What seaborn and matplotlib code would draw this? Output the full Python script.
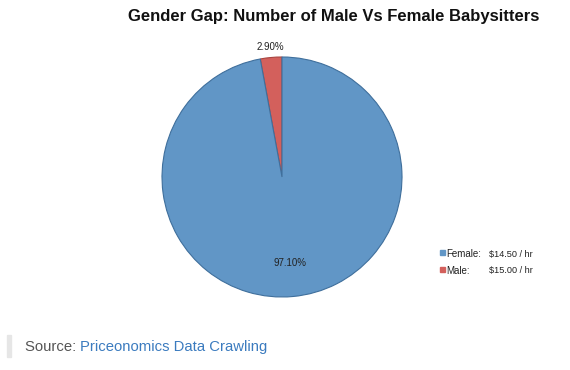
import matplotlib
matplotlib.use("Agg")
import matplotlib.pyplot as plt
import seaborn as sns
import numpy as np

sns.set_theme(style="white")
plt.rcParams['font.family'] = ['Liberation Sans', 'DejaVu Sans']

categories = ["Male", "Female"]
shares = [2.90, 97.10]
rates = ["$15.00 / hr", "$14.50 / hr"]
colors = ["#d3605c", "#6196c6"]
edge_colors = ["#a84440", "#3f6f9c"]

W, H = 570, 370
fig = plt.figure(figsize=(W / 100, H / 100), dpi=100)
cx, cy, r = 282, 177, 120
ax = fig.add_axes([(cx - r) / W, (H - cy - r) / H, 2 * r / W, 2 * r / H])
wedges, _ = ax.pie(shares, colors=colors, startangle=90, counterclock=True,
                   wedgeprops=dict(linewidth=0.8))
for w, ec in zip(wedges, edge_colors):
    w.set_edgecolor(ec)
ax.set_xlim(-1, 1)
ax.set_ylim(-1, 1)
ax.set_aspect('equal')
ax.axis('off')

label_r = {"Male": 1.09, "Female": 0.72}
for w, cat, s in zip(wedges, categories, shares):
    ang = np.deg2rad((w.theta1 + w.theta2) / 2)
    rr = label_r[cat]
    ax.text(rr * np.cos(ang), rr * np.sin(ang), f"{s:.2f}%", ha='center', va='center',
            fontsize=7, color='#222222')

fig.text(334 / W, 1 - 16 / H, "Gender Gap: Number of Male Vs Female Babysitters",
         ha='center', va='center', fontsize=12, fontweight='bold', color='#111111')

# legend (Female first)
leg_items = [(categories[1], rates[1], colors[1]), (categories[0], rates[0], colors[0])]
for i, (cat, rate, col) in enumerate(leg_items):
    y = 254 + i * 17
    fig.patches.append(plt.Rectangle((440 / W, 1 - (y + 1) / H), 5 / W, 5 / H,
                                     transform=fig.transFigure, color=col, figure=fig))
    fig.text(446 / W, 1 - y / H, f"{cat}:", ha='left', va='center', fontsize=7, color='#222222')
    fig.text(489 / W, 1 - y / H, rate, ha='left', va='center', fontsize=6.6, color='#222222')

# source line
fig.patches.append(plt.Rectangle((7 / W, 1 - 357 / H), 4 / W, 22 / H,
                                 transform=fig.transFigure, color='#e6e6e6', figure=fig))
t1 = fig.text(25 / W, 1 - 347 / H, "Source: ", ha='left', va='center', fontsize=10.7, color='#555555')
fig.canvas.draw()
bb = t1.get_window_extent()
fig.text(bb.x1 / W, 1 - 347 / H, "Priceonomics Data Crawling", ha='left', va='center',
         fontsize=10.7, color='#3b7bbf')

fig.savefig("out.png", dpi=100)
